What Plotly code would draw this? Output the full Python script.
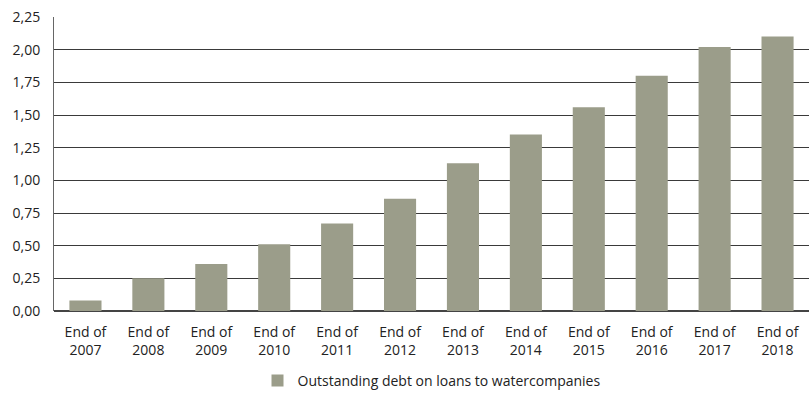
import plotly.graph_objects as go

# Outstanding debt on loans to water companies, year-end values
years = ["2007", "2008", "2009", "2010", "2011", "2012",
         "2013", "2014", "2015", "2016", "2017", "2018"]
debt = [0.08, 0.25, 0.36, 0.51, 0.67, 0.86, 1.13, 1.35, 1.56, 1.80, 2.02, 2.10]
y_ticks = [0, 0.25, 0.5, 0.75, 1.0, 1.25, 1.5, 1.75, 2.0, 2.25]

categories = ["End of<br>" + y for y in years]

fig = go.Figure()
fig.add_trace(go.Bar(
    x=categories,
    y=debt,
    name="Outstanding debt on loans to watercompanies",
    marker=dict(color="#9b9d8a", line=dict(width=0)),
))

fig.update_layout(
    width=809,
    height=394,
    margin=dict(l=54, r=0, t=17, b=83, autoexpand=False),
    paper_bgcolor="white",
    plot_bgcolor="white",
    separators=", ",
    bargap=0.49,
    font=dict(family="Open Sans, Lato, sans-serif", size=14, color="#222222"),
    showlegend=True,
    legend=dict(
        orientation="h",
        x=0.5, xanchor="center",
        y=-0.238, yanchor="middle",
        font=dict(size=14, color="#222222"),
        itemwidth=30,
    ),
)

fig.update_xaxes(
    showgrid=False,
    showline=False,
    ticks="",
    ticklabelstandoff=11,
    tickfont=dict(size=14),
    automargin=False,
)

fig.update_yaxes(
    range=[0, 2.25],
    tickvals=y_ticks,
    tickformat=".2f",
    showgrid=True,
    gridcolor="#3a3a3a",
    gridwidth=1,
    zeroline=True,
    zerolinecolor="#444444",
    zerolinewidth=2,
    showline=True,
    linecolor="#666666",
    linewidth=1,
    ticks="",
    ticklabelstandoff=10,
    tickfont=dict(size=14),
    automargin=False,
)

fig.write_html("out.html")
